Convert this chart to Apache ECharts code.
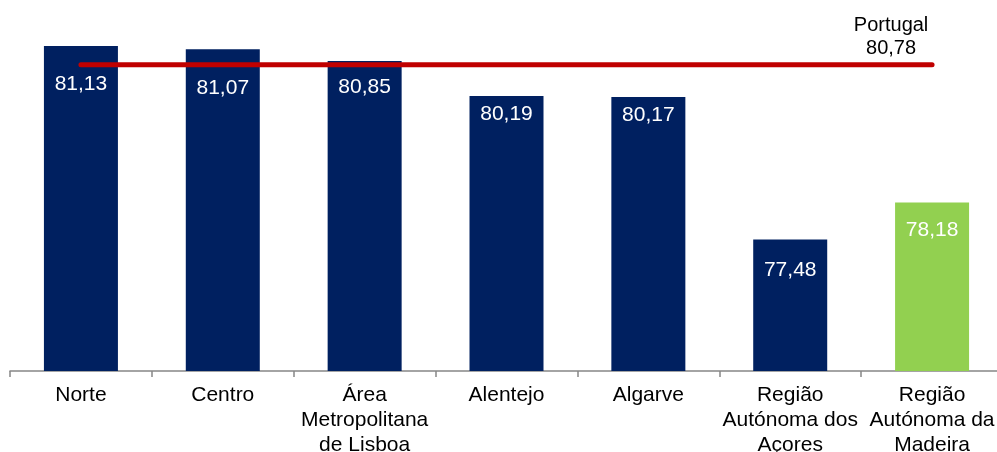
<!DOCTYPE html>
<html>
<head>
<meta charset="utf-8">
<script src="https://cdn.jsdelivr.net/npm/echarts@6/dist/echarts.min.js"></script>
<style>
  html, body { margin: 0; padding: 0; background: #fff; }
  #chart { width: 997px; height: 452px; }
</style>
</head>
<body>
<div id="chart"></div>
<script>
// regiões NUTS II
const regioes = [
  "Norte",
  "Centro",
  "Área\nMetropolitana\nde Lisboa",
  "Alentejo",
  "Algarve",
  "Região\nAutónoma dos\nAçores",
  "Região\nAutónoma da\nMadeira"
]
const valores = [81.13, 81.07, 80.85, 80.19, 80.17, 77.48, 78.18]
const portugal = 80.78
// distância do rótulo ao topo da barra (px)
const labelGap = [28, 28, 16, 8, 8, 20, 17]

const fmt = (v) => v.toFixed(2).replace(".", ",")
const FONT = "Liberation Sans, Arial, sans-serif"

const barData = valores.map((v, i) => ({
  value: v,
  itemStyle: { color: i === valores.length - 1 ? "#92d050" : "#002060" },
  label: { distance: labelGap[i] }
}))

const lineData = regioes.map(() => portugal)

const chart = echarts.init(document.getElementById("chart"))
chart.setOption({
  backgroundColor: "#fff",
  animation: false,
  grid: { top: 0, left: 10, right: -6, bottom: 81, containLabel: false, outerBoundsMode: "none" },
  xAxis: {
    type: "category",
    data: regioes,
    axisLine: { show: true, lineStyle: { color: "#868686", width: 1.5 } },
    axisTick: { show: true, length: 6, lineStyle: { color: "#868686", width: 1.5 } },
    axisLabel: {
      color: "#000",
      fontSize: 21,
      lineHeight: 25,
      margin: 12,
      interval: 0,
      fontFamily: FONT
    }
  },
  yAxis: {
    type: "value",
    min: 75,
    max: 82,
    show: false
  },
  series: [
    {
      type: "bar",
      data: barData,
      barWidth: 74,
      label: {
        show: true,
        position: "insideTop",
        color: "#fff",
        fontSize: 21,
        fontFamily: FONT,
        formatter: (p) => fmt(p.value)
      }
    },
    {
      type: "line",
      data: lineData,
      symbol: "none",
      lineStyle: { color: "#c00000", width: 5, cap: "round" },
      endLabel: {
        show: true,
        formatter: "Portugal\n" + fmt(portugal),
        color: "#000",
        fontSize: 20,
        lineHeight: 23,
        fontFamily: FONT,
        align: "center",
        verticalAlign: "bottom",
        distance: 0,
        offset: [-41, -5]
      },
      z: 5
    }
  ]
})
</script>
</body>
</html>
